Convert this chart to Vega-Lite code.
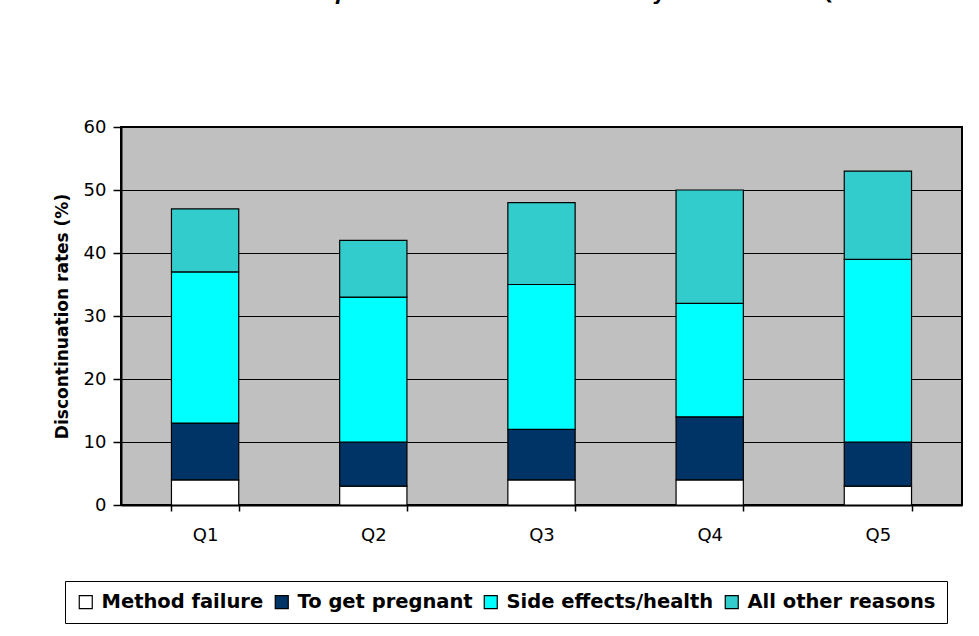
{
  "$schema": "https://vega.github.io/schema/vega-lite/v6.json",
  "autosize": "none",
  "width": 841,
  "height": 378,
  "padding": {"left": 121, "top": 127, "right": 17, "bottom": 131},
  "background": "white",
  "title": {
    "text": "Vertical Hormonal Contraceptive Discontinuation Rates by Wealth Index Quintile",
    "font": "DejaVu Sans",
    "fontSize": 19,
    "fontStyle": "italic",
    "fontWeight": "bold",
    "color": "black",
    "anchor": "middle",
    "baseline": "alphabetic",
    "offset": 99.5,
    "dx": -69
  },
  "data": {
    "values": [
      {"q": "Q1", "reason": "Method failure", "o": 1, "v": 4},
      {"q": "Q1", "reason": "To get pregnant", "o": 2, "v": 9},
      {"q": "Q1", "reason": "Side effects/health", "o": 3, "v": 24},
      {"q": "Q1", "reason": "All other reasons", "o": 4, "v": 10},
      {"q": "Q2", "reason": "Method failure", "o": 1, "v": 3},
      {"q": "Q2", "reason": "To get pregnant", "o": 2, "v": 7},
      {"q": "Q2", "reason": "Side effects/health", "o": 3, "v": 23},
      {"q": "Q2", "reason": "All other reasons", "o": 4, "v": 9},
      {"q": "Q3", "reason": "Method failure", "o": 1, "v": 4},
      {"q": "Q3", "reason": "To get pregnant", "o": 2, "v": 8},
      {"q": "Q3", "reason": "Side effects/health", "o": 3, "v": 23},
      {"q": "Q3", "reason": "All other reasons", "o": 4, "v": 13},
      {"q": "Q4", "reason": "Method failure", "o": 1, "v": 4},
      {"q": "Q4", "reason": "To get pregnant", "o": 2, "v": 10},
      {"q": "Q4", "reason": "Side effects/health", "o": 3, "v": 18},
      {"q": "Q4", "reason": "All other reasons", "o": 4, "v": 18},
      {"q": "Q5", "reason": "Method failure", "o": 1, "v": 3},
      {"q": "Q5", "reason": "To get pregnant", "o": 2, "v": 7},
      {"q": "Q5", "reason": "Side effects/health", "o": 3, "v": 29},
      {"q": "Q5", "reason": "All other reasons", "o": 4, "v": 14}
    ]
  },
  "mark": {"type": "bar", "stroke": "black", "strokeWidth": 1.2},
  "encoding": {
    "x": {
      "field": "q",
      "type": "nominal",
      "scale": {"paddingInner": 0.6, "paddingOuter": 0.3},
      "axis": {
        "title": null,
        "labelAngle": 0,
        "labelFont": "DejaVu Sans",
        "labelFontSize": 18,
        "labelColor": "black",
        "labelPadding": 15,
        "tickBand": "extent",
        "tickColor": "black",
        "tickSize": 6,
        "tickWidth": 1.5,
        "domainColor": "black",
        "domainWidth": 2,
        "grid": false
      }
    },
    "y": {
      "field": "v",
      "type": "quantitative",
      "stack": "zero",
      "scale": {"domain": [0, 60], "nice": false},
      "axis": {
        "title": "Discontinuation rates (%)",
        "titleFont": "DejaVu Sans",
        "titleFontSize": 17,
        "titleFontWeight": "bold",
        "titleColor": "black",
        "titlePadding": 12,
        "values": [0, 10, 20, 30, 40, 50, 60],
        "labelFont": "DejaVu Sans",
        "labelFontSize": 18,
        "labelColor": "black",
        "labelPadding": 7,
        "tickColor": "black",
        "tickSize": 8,
        "tickWidth": 1.5,
        "domainColor": "black",
        "domainWidth": 2,
        "grid": true,
        "gridColor": "black",
        "gridWidth": 1.2,
        "gridOpacity": 1
      }
    },
    "color": {
      "field": "reason",
      "type": "nominal",
      "sort": ["Method failure", "To get pregnant", "Side effects/health", "All other reasons"],
      "scale": {
        "domain": ["Method failure", "To get pregnant", "Side effects/health", "All other reasons"],
        "range": ["#ffffff", "#003366", "#00ffff", "#33cccc"]
      },
      "legend": {
        "title": null,
        "orient": "none",
        "legendX": -56,
        "legendY": 454,
        "direction": "horizontal",
        "strokeColor": "black",
        "fillColor": "white",
        "padding": 11,
        "symbolType": "square",
        "symbolSize": 169,
        "symbolStrokeColor": "black",
        "symbolStrokeWidth": 1.2,
        "symbolOpacity": 1,
        "labelFont": "DejaVu Sans",
        "labelFontSize": 19.5,
        "labelFontWeight": "bold",
        "labelColor": "black",
        "labelLimit": 400,
        "labelOffset": 6,
        "columnPadding": 8
      }
    },
    "order": {"field": "o", "type": "quantitative"}
  },
  "config": {
    "view": {"fill": "#c0c0c0", "stroke": "black", "strokeWidth": 2}
  }
}
